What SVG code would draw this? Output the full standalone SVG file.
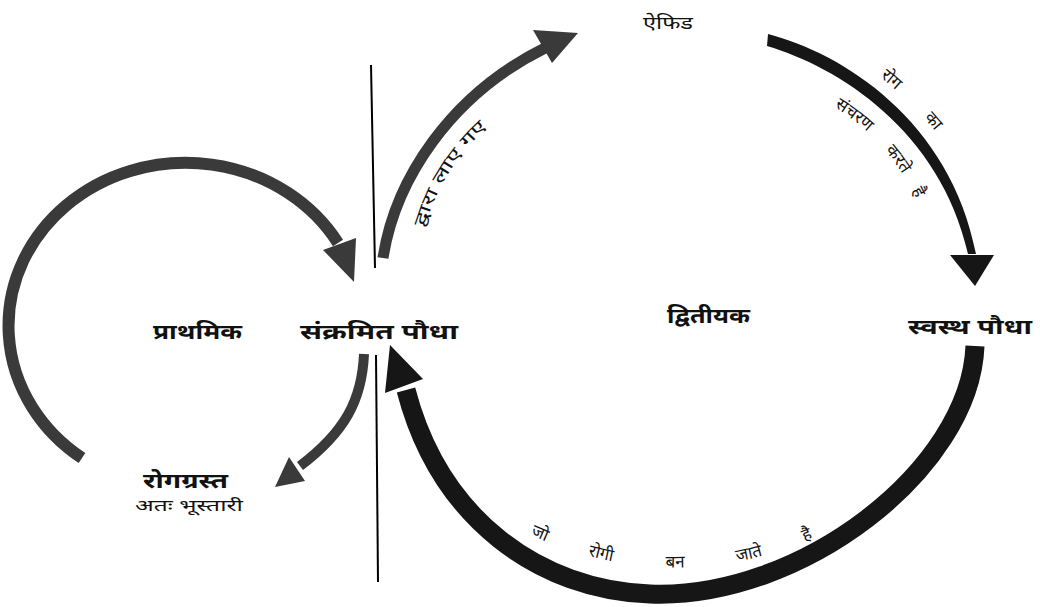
<svg xmlns="http://www.w3.org/2000/svg" width="1040" height="607" viewBox="0 0 1040 607">
<style>
.lbl{font-family:"Noto Sans Devanagari","Noto Sans","Lohit Devanagari","Noto Serif Devanagari",sans-serif;fill:#111;}
.big{font-size:21px;font-weight:bold;}
.sm{font-size:17px;}
.arrg{fill:none;stroke:#3a3a3a;stroke-linecap:butt;}
.arrd{fill:none;stroke:#161616;stroke-linecap:butt;}
.headg{fill:#3a3a3a;}
.headd{fill:#161616;}
</style>
<defs>
<path id="p2txt" d="M 417 263 C 429 186, 467 124, 565 76"/>
<path id="p3out" d="M 773 21 C 846 40, 965 120, 992 249"/>
<path id="p3in" d="M 756 74 C 828 94, 910 136, 938 264"/>
<path id="p4txt" d="M 510 525 Q 675 610, 840 525"/>
</defs>
<rect width="1040" height="607" fill="#fff"/>

<g id="divider">
<line x1="371" y1="65" x2="375" y2="268" stroke="#000" stroke-width="2"/>
<line x1="376" y1="355" x2="378" y2="582" stroke="#000" stroke-width="2"/>
</g>

<g id="connectors">
<g id="primary-loop">
<path class="arrg" stroke-width="12" d="M 82 458 A 177 163 0 1 1 338 243"/>
<polygon class="headg" points="323,250 356,238 354,282"/>
</g>
<g id="to-aphid">
<path class="arrg" stroke-width="11" d="M 383 258 C 395 180, 450 95, 545 48"/>
<polygon class="headg" points="533,30 578,33 552,63"/>
</g>
<g id="aphid-to-healthy">
<path class="headd" d="M 768 34 C 842 53, 950 120, 976 254 L 968 254 C 940 130, 838 67, 767 46 Z"/>
<polygon class="headd" points="950,255 994,255 975,286"/>
</g>
<g id="healthy-to-infected">
<path class="arrd" stroke-width="19" d="M 975 346 C 970 470, 800 600, 650 594 C 540 590, 440 520, 406 390"/>
<polygon class="headd" points="390,345 385,393 423,379"/>
</g>
<g id="to-diseased">
<path class="arrg" stroke-width="10" d="M 364 354 C 362 400, 345 432, 300 466"/>
<polygon class="headg" points="275,487 289,457 305,481"/>
</g>
<g id="connector-labels">
<text class="lbl sm"><textPath href="#p2txt" startOffset="36" textLength="120" lengthAdjust="spacingAndGlyphs">द्वारा लाए गए</textPath></text>
<text class="lbl sm" text-anchor="middle"><textPath href="#p3out" startOffset="132">रोग</textPath></text>
<text class="lbl sm" text-anchor="middle"><textPath href="#p3out" startOffset="190">का</textPath></text>
<text class="lbl sm" text-anchor="middle"><textPath href="#p3in" startOffset="106">संचरण</textPath></text>
<text class="lbl sm" text-anchor="middle"><textPath href="#p3in" startOffset="167">करते</textPath></text>
<text class="lbl sm" text-anchor="middle"><textPath href="#p3in" startOffset="205">है</textPath></text>
<text class="lbl sm" text-anchor="middle"><textPath href="#p4txt" startOffset="9%">जो</textPath></text>
<text class="lbl sm" text-anchor="middle"><textPath href="#p4txt" startOffset="28%">रोगी</textPath></text>
<text class="lbl sm" text-anchor="middle"><textPath href="#p4txt" startOffset="50%">बन</textPath></text>
<text class="lbl sm" text-anchor="middle"><textPath href="#p4txt" startOffset="72%">जाते</textPath></text>
<text class="lbl sm" text-anchor="middle"><textPath href="#p4txt" startOffset="90%">है</textPath></text>
</g>
</g>

<g id="node-aphid"><text class="lbl" font-size="18" x="643" y="29" textLength="50" lengthAdjust="spacingAndGlyphs">ऐफिड</text></g>
<g id="node-primary"><text class="lbl big" x="153" y="339" textLength="89" lengthAdjust="spacingAndGlyphs">प्राथमिक</text></g>
<g id="node-infected"><text class="lbl big" x="300" y="339" textLength="158" lengthAdjust="spacingAndGlyphs">संक्रमित पौधा</text></g>
<g id="node-secondary"><text class="lbl big" x="667" y="323" textLength="83" lengthAdjust="spacingAndGlyphs">द्वितीयक</text></g>
<g id="node-healthy"><text class="lbl big" x="908" y="334" textLength="124" lengthAdjust="spacingAndGlyphs">स्वस्थ पौधा</text></g>
<g id="node-diseased">
<text class="lbl big" x="143" y="488" textLength="85" lengthAdjust="spacingAndGlyphs">रोगग्रस्त</text>
<text class="lbl" font-size="16" x="135" y="511" textLength="108" lengthAdjust="spacingAndGlyphs">अतः भूस्तारी</text>
</g>
</svg>
